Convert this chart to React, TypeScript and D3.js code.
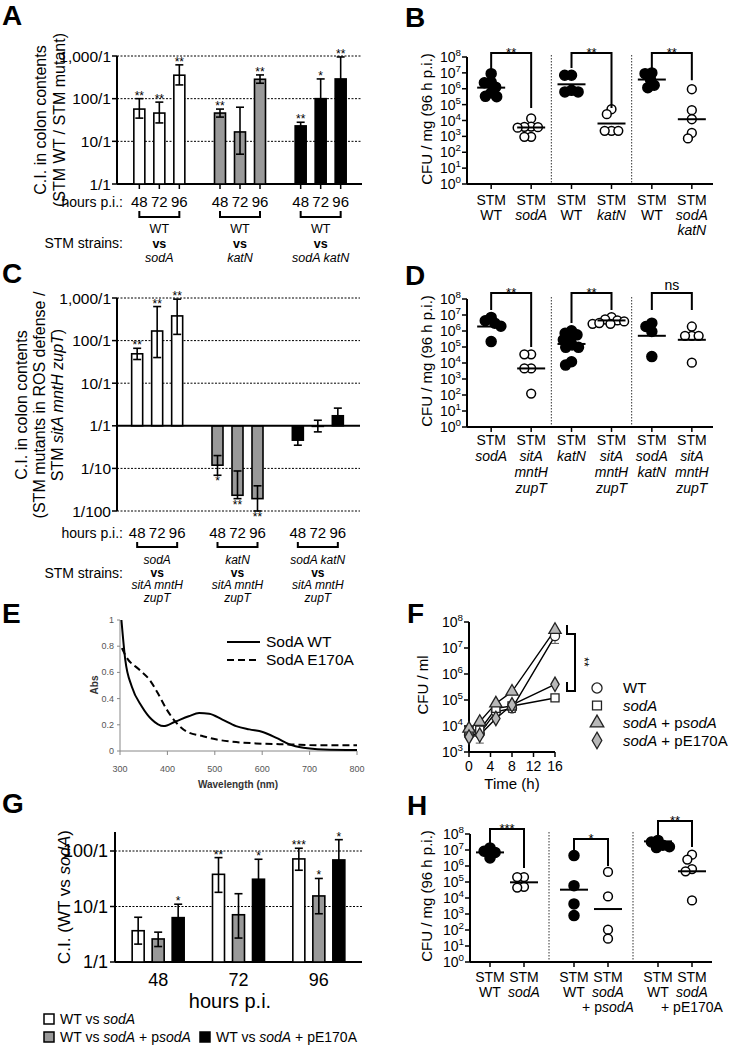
import React from "react";
import * as d3 from "d3";

const FONT = "'Liberation Sans', Arial, Helvetica, sans-serif";

// ---------------- Panel A ----------------
const aGroups = ["sodA", "katN", "sodA katN"];
const aHours = ["48", "72", "96"];
const aValues = [[57, 46, 355], [46, 16.6, 285], [23, 100, 290]];
const aErrHi = [[100, 83, 620], [57, 63, 360], [28, 290, 950]];
const aErrLo = [[35, 27, 210], [37, 5, 230], [20, 40, 200]];
const aStars = [["**", "**", "**"], ["**", "", "**"], ["**", "*", "**"]];
const aFills = ["#ffffff", "#999999", "#000000"];
const aTicks = [1, 10, 100, 1000];
const aTickLabels = ["1/1", "10/1", "100/1", "1,000/1"];
const aStrainLines = [["WT", "vs", "_sodA_"], ["WT", "vs", "_katN_"], ["WT", "vs", "_sodA katN_"]];

// ---------------- Panel C ----------------
const cGroups = ["sodA", "katN", "sodA katN"];
const cValues = [[49, 168, 380], [0.119, 0.0234, 0.0195], [0.46, 0.97, 1.72]];
const cErrHi = [[66, 630, 940], [0.2, 0.087, 0.039], [0.6, 1.35, 2.6]];
const cErrLo = [[36, 40, 140], [0.069, 0.0195, 0.01], [0.35, 0.72, 1.2]];
const cStars = [["**", "**", "**"], ["*", "**", "**"], ["", "", ""]];
const cTicks = [0.01, 0.1, 1, 10, 100, 1000];
const cTickLabels = ["1/100", "1/10", "1/1", "10/1", "100/1", "1,000/1"];
const cStrainLines = [
  ["_sodA_", "vs", "_sitA mntH_", "_zupT_"],
  ["_katN_", "vs", "_sitA mntH_", "_zupT_"],
  ["_sodA katN_", "vs", "_sitA mntH_", "_zupT_"],
];

// ---------------- Panel G ----------------
const gHours = ["48", "72", "96"];
const gSeries = ["WT vs _sodA_", "WT vs _sodA_ + p_sodA_", "WT vs _sodA_ + pE170A"];
const gFills = ["#ffffff", "#999999", "#000000"];
const gValues = [[3.66, 38, 72], [2.6, 7.1, 15.5], [6.3, 31, 69]];
const gErrHi = [[6.4, 76, 112], [3.45, 17, 32], [11, 71, 160]];
const gErrLo = [[2.1, 18, 45], [1.9, 2.7, 7.4], [3.5, 15, 30]];
const gStars = [["", "**", "***"], ["", "", "*"], ["*", "*", "*"]];
const gTicks = [1, 10, 100];
const gTickLabels = ["1/1", "10/1", "100/1"];

// ---------------- Panel B (log10 CFU/mg) ----------------
const bPoints = [
  [6.95, 6.42, 6.38, 6.1, 5.5, 5.52, 5.75],
  [4.13, 3.62, 3.6, 3.58, 3.55, 2.97, 2.97],
  [6.85, 6.85, 5.9, 5.8, 5.8],
  [4.71, 4.4, 3.35, 3.35, 3.35],
  [6.58, 7.0, 6.95, 6.07, 6.22],
  [5.97, 4.65, 4.08, 3.22, 2.87],
];
const bMedians = [6.07, 3.56, 6.28, 3.81, 6.58, 4.08];
const bFilled = [true, false, true, false, true, false];
const bLabels = [["STM", "WT"], ["STM", "_sodA_"], ["STM", "WT"], ["STM", "_katN_"], ["STM", "WT"], ["STM", "_sodA_", "_katN_"]];
const bBrackets = [
  { label: "**", top: 8.25, left: 7.17, right: 4.78 },
  { label: "**", top: 8.25, left: 7.3, right: 4.78 },
  { label: "**", top: 8.25, left: 7.17, right: 6.54 },
];

// ---------------- Panel D ----------------
const dPoints = [
  [6.85, 6.64, 6.49, 6.3, 5.34],
  [4.54, 4.54, 3.66, 3.66, 2.09],
  [6.01, 5.86, 5.76, 5.55, 5.45, 5.13, 4.98, 4.98, 4.08, 3.87],
  [6.87, 6.72, 6.66, 6.6, 6.45, 6.45, 6.5],
  [6.49, 6.28, 5.97, 4.4],
  [6.28, 5.7, 5.7, 5.7, 4.02],
];
const dMedians = [6.28, 3.66, 5.19, 6.66, 5.7, 5.45];
const dFilled = [true, false, true, false, true, false];
const dLabels = [
  ["STM", "_sodA_"], ["STM", "_sitA_", "_mntH_", "_zupT_"],
  ["STM", "_katN_"], ["STM", "_sitA_", "_mntH_", "_zupT_"],
  ["STM", "_sodA_", "_katN_"], ["STM", "_sitA_", "_mntH_", "_zupT_"],
];
const dBrackets = [
  { label: "**", top: 8.375, left: 7.31, right: 5.0 },
  { label: "**", top: 8.375, left: 6.5, right: 7.31 },
  { label: "ns", top: 8.375, left: 7.31, right: 7.31 },
];

// ---------------- Panel H ----------------
const hPoints = [
  [7.13, 6.92, 6.85, 6.5],
  [5.31, 5.31, 4.7, 4.65],
  [6.65, 4.77, 3.63, 2.9],
  [5.63, 4.1, 2.02, 1.46],
  [7.6, 7.5, 7.3, 7.2, 7.15],
  [6.71, 6.4, 5.81, 5.67, 3.85],
];
const hMedians = [6.85, 4.98, 4.52, 3.31, 7.54, 5.67];
const hFilled = [true, false, true, false, true, false];
const hLabels = [
  ["STM", "WT"], ["STM", "_sodA_"], ["STM", "WT"], ["STM", "_sodA_", "+ p_sodA_"],
  ["STM", "WT"], ["STM", "_sodA_", "+ pE170A"],
];
const hBrackets = [
  { label: "***", top: 8.31, left: 7.19, right: 5.88 },
  { label: "*", top: 7.69, left: 6.94, right: 6.0 },
  { label: "**", top: 8.81, left: 7.94, right: 7.19 },
];
const logTicks = [0, 1, 2, 3, 4, 5, 6, 7, 8];

// ---------------- Panel E ----------------
const eWlWT = [303, 311, 325, 346, 367, 392, 417, 445, 467, 488, 516, 545, 573, 601, 630, 658, 687, 729, 800];
const eAbsWT = [1.0, 0.7, 0.49, 0.34, 0.24, 0.19, 0.225, 0.265, 0.29, 0.285, 0.24, 0.19, 0.165, 0.145, 0.1, 0.05, 0.025, 0.012, 0.008];
const eWlMut = [304, 313, 341, 362, 380, 398, 419, 440, 474, 502, 545, 587, 658, 729, 800];
const eAbsMut = [0.785, 0.72, 0.62, 0.545, 0.44, 0.32, 0.215, 0.15, 0.114, 0.089, 0.068, 0.058, 0.05, 0.043, 0.043];
const eXTicks = [300, 400, 500, 600, 700, 800];
const eYTicks = [0, 0.2, 0.4, 0.6, 0.8, 1];
const eLegend = ["SodA WT", "SodA E170A"];

// ---------------- Panel F ----------------
const fHours = [0, 2, 5, 8, 16];
const fSeriesNames = ["WT", "_sodA_", "_sodA_ + p_sodA_", "_sodA_ + pE170A"];
const fWT = [4.5e3, 5.1e3, 3.5e4, 4.8e4, 2.9e7];
const fSodA = [6.9e3, 6.9e3, 4.8e4, 5.9e4, 1.2e5];
const fPsodA = [7.9e3, 1.45e4, 7.4e4, 2.1e5, 5.0e7];
const fPE170A = [3.8e3, 4.5e3, 1.95e4, 6.5e4, 4.0e5];
const fWTErrLo = [3.5e3, 2.2e3, 2.8e4, 3.3e4, 1.5e7];
const fXTicks = [0, 4, 8, 12, 16];
const fYTicks = [3, 4, 5, 6, 7, 8];

// ================= helpers =================
function Rich({ text, x, y, anchor = "middle", size = 14, weight = "normal", fill = "#000" }: any) {
  const parts = String(text).split("_");
  return (
    <text x={x} y={y} textAnchor={anchor} fontSize={size} fontWeight={weight} fill={fill} style={{ whiteSpace: "pre" }}>
      {parts.map((p: string, i: number) =>
        p ? (
          <tspan key={i} fontStyle={i % 2 ? "italic" : "normal"}>
            {p}
          </tspan>
        ) : null
      )}
    </text>
  );
}

function Letter({ ch, x, y }: any) {
  return (
    <text x={x} y={y} fontSize={28} fontWeight="bold">
      {ch}
    </text>
  );
}

function barEl(key: string, cx: number, bw: number, y: any, base: number, v: number, hi: number, lo: number, fill: string, star: string) {
  const yb = y(base);
  const yv = y(v);
  const up = v >= base;
  const top = Math.min(yb, yv);
  const h = Math.abs(yb - yv);
  const yHi = y(hi);
  const yLo = y(lo);
  const cap = 4;
  return (
    <g key={key}>
      <rect x={cx - bw / 2} y={top} width={bw} height={h} fill={fill} stroke="#000" strokeWidth={1.6} />
      <line x1={cx} x2={cx} y1={yHi} y2={yLo} stroke="#000" strokeWidth={1.6} />
      <line x1={cx - cap} x2={cx + cap} y1={yHi} y2={yHi} stroke="#000" strokeWidth={1.6} />
      <line x1={cx - cap} x2={cx + cap} y1={yLo} y2={yLo} stroke="#000" strokeWidth={1.6} />
      {star ? (
        <text x={cx} y={up ? yHi + 1 : yLo + 10} textAnchor="middle" fontSize={12}>
          {star}
        </text>
      ) : null}
    </g>
  );
}

function beeswarm(vals: number[], yPix: (v: number) => number, d: number): number[] {
  const placed: { x: number; y: number }[] = [];
  const order = vals.map((_, i) => i).sort((a, b) => vals[b] - vals[a]);
  const xs = new Array(vals.length).fill(0);
  for (const i of order) {
    const y = yPix(vals[i]);
    const cands = [0];
    for (const p of placed) {
      const dy = Math.abs(p.y - y);
      if (dy < d) {
        const dx = Math.sqrt(d * d - dy * dy);
        cands.push(p.x + dx, p.x - dx);
      }
    }
    cands.sort((a, b) => Math.abs(a) - Math.abs(b) || a - b);
    let chosen = 0;
    for (const c of cands) {
      if (placed.every((p) => (p.x - c) ** 2 + (p.y - y) ** 2 >= d * d - 0.01)) {
        chosen = c;
        break;
      }
    }
    placed.push({ x: chosen, y });
    xs[i] = chosen;
  }
  return xs;
}

function LogTickLabel({ x, y, exp, size = 14 }: any) {
  return (
    <text x={x} y={y + 5} textAnchor="end" fontSize={size}>
      10
      <tspan dy={-6} fontSize={size * 0.7}>
        {exp}
      </tspan>
    </text>
  );
}

// ================= Dot panel (B, D, H) =================
function DotPanel({ axisX, axisRight, yTop, yBottom, groupRange, offset, points, medians, filled, labels, brackets, labelY, labelDy, yLabel, yLabelX, yLabelY }: any) {
  const y = d3.scaleLinear().domain([0, 8]).range([yBottom, yTop]);
  const groups = ["g1", "g2", "g3"];
  const xg = d3.scaleBand().domain(groups).range(groupRange).padding(0);
  const xi = d3.scalePoint().domain(["a", "b"]).range([-offset, offset]);
  const catX = (k: number) => (xg(groups[Math.floor(k / 2)]) as number) + xg.bandwidth() / 2 + (xi(k % 2 ? "b" : "a") as number);
  const r = 5;
  return (
    <g>
      {[1, 2].map((gi) => {
        const xx = xg(groups[gi]) as number;
        return <line key={gi} x1={xx} x2={xx} y1={yTop - 2} y2={yBottom} stroke="#333" strokeWidth={1} strokeDasharray="1.5,1.5" />;
      })}
      <line x1={axisX} x2={axisX} y1={yTop} y2={yBottom} stroke="#000" strokeWidth={2} />
      <line x1={axisX} x2={axisRight} y1={yBottom} y2={yBottom} stroke="#000" strokeWidth={2} />
      {logTicks.map((t) => (
        <g key={t}>
          <line x1={axisX - 5} x2={axisX} y1={y(t)} y2={y(t)} stroke="#000" strokeWidth={1.5} />
          <LogTickLabel x={axisX - 6} y={y(t)} exp={t} />
        </g>
      ))}
      {points.map((_: any, k: number) => (
        <line key={k} x1={catX(k)} x2={catX(k)} y1={yBottom} y2={yBottom + 5} stroke="#000" strokeWidth={1.5} />
      ))}
      {points.map((vals: number[], k: number) => {
        const xs = beeswarm(vals, y, 6.8);
        return (
          <g key={k}>
            {vals.map((v, i) => (
              <circle key={i} cx={catX(k) + xs[i]} cy={y(v)} r={filled[k] ? r : r - 0.6} fill={filled[k] ? "#000" : "#fff"} stroke="#000" strokeWidth={1.5} />
            ))}
            <line x1={catX(k) - 14} x2={catX(k) + 14} y1={y(medians[k])} y2={y(medians[k])} stroke="#000" strokeWidth={2} />
          </g>
        );
      })}
      {brackets.map((b: any, gi: number) => {
        const xl = catX(gi * 2);
        const xr = catX(gi * 2 + 1);
        const yt = y(b.top);
        return (
          <g key={gi}>
            <path d={`M${xl},${y(b.left)}V${yt}H${xr}V${y(b.right)}`} fill="none" stroke="#000" strokeWidth={2} />
            <text x={(xl + xr) / 2} y={b.label === "ns" ? yt - 3 : yt + 4} textAnchor="middle" fontSize={b.label === "ns" ? 14 : 13}>
              {b.label}
            </text>
          </g>
        );
      })}
      {labels.map((lines: string[], k: number) =>
        lines.map((ln, li) => <Rich key={k + "-" + li} text={ln} x={catX(k)} y={labelY + li * labelDy} size={14} />)
      )}
      <text transform={`translate(${yLabelX},${yLabelY}) rotate(-90)`} textAnchor="middle" fontSize={15}>
        {yLabel}
      </text>
    </g>
  );
}

// ================= Main =================
export default function App() {
  const yA = d3.scaleLog().domain([1, 1000]).range([184, 56]);
  const xA = d3.scaleBand().domain(aGroups).range([119, 361]).padding(0);
  const xAi = d3.scaleBand().domain(aHours).range([-30, 30]).paddingInner(0.45).paddingOuter(0.225);
  const aCx = (gi: number, hi: number) => (xA(aGroups[gi]) as number) + xA.bandwidth() / 2 + (xAi(aHours[hi]) as number) + xAi.bandwidth() / 2;

  const yC = d3.scaleLog().domain([0.01, 1000]).range([511, 298]);
  const xC = d3.scaleBand().domain(cGroups).range([117, 358]).padding(0);
  const cCx = (gi: number, hi: number) => (xC(cGroups[gi]) as number) + xC.bandwidth() / 2 + (xAi(aHours[hi]) as number) + xAi.bandwidth() / 2;

  const yG = d3.scaleLog().domain([1, 100]).range([962, 851]);
  const xG = d3.scaleBand().domain(gHours).range([118, 359]).padding(0);
  const xGi = d3.scaleBand().domain(["0", "1", "2"]).range([-30, 30]).paddingInner(0.4).paddingOuter(0.2);
  const gCx = (hi: number, si: number) => (xG(gHours[hi]) as number) + xG.bandwidth() / 2 + (xGi(String(si)) as number) + xGi.bandwidth() / 2;

  const xE = d3.scaleLinear().domain([300, 800]).range([120, 357]);
  const yE = d3.scaleLinear().domain([0, 1]).range([751, 620]);
  const lineE = d3.line<number>().curve(d3.curveMonotoneX);
  const wtPath = lineE(eWlWT.map((w, i) => [xE(w), yE(eAbsWT[i])]) as any);
  const mutPath = lineE(eWlMut.map((w, i) => [xE(w), yE(eAbsMut[i])]) as any);

  const xF = d3.scaleLinear().domain([0, 16]).range([469, 555]);
  const yF = d3.scaleLog().domain([1e3, 1e8]).range([752, 622]);
  const fSeries = [fWT, fSodA, fPsodA, fPE170A];
  const fSymbols = [d3.symbolCircle, d3.symbolSquare, d3.symbolTriangle, d3.symbolDiamond];
  const fSizes = [65, 65, 65, 60];
  const fFill = ["#fff", "#fff", "#b8b8b8", "#b8b8b8"];
  const fLine = d3.line<number>();
  const legendRows = d3.scalePoint().domain(["0", "1", "2", "3"]).range([688, 740.5]);

  return (
    <svg width={733} height={1050} style={{ position: "absolute", left: 0, top: 0, background: "#fff" }} fontFamily={FONT}>
      <rect x={0} y={0} width={733} height={1050} fill="#fff" />

      {/* ================= A ================= */}
      <Letter ch="A" x={2} y={25} />
      {aTicks.slice(1).map((t) => (
        <line key={t} x1={117} x2={362} y1={yA(t)} y2={yA(t)} stroke="#000" strokeWidth={1} strokeDasharray="2,1.5" />
      ))}
      <line x1={117} x2={117} y1={56} y2={184} stroke="#000" strokeWidth={2} />
      <line x1={117} x2={362} y1={184} y2={184} stroke="#000" strokeWidth={2} />
      {aTicks.map((t, i) => (
        <g key={t}>
          <line x1={112} x2={117} y1={yA(t)} y2={yA(t)} stroke="#000" strokeWidth={1.5} />
          <text x={111} y={yA(t) + 5.5} textAnchor="end" fontSize={15.5}>
            {aTickLabels[i]}
          </text>
        </g>
      ))}
      {aGroups.map((g, gi) =>
        aHours.map((h, hi) => (
          <line key={g + h + "t"} x1={aCx(gi, hi)} x2={aCx(gi, hi)} y1={184} y2={189} stroke="#000" strokeWidth={1.5} />
        ))
      )}
      {aGroups.map((g, gi) =>
        aHours.map((h, hi) =>
          barEl("a" + gi + hi, aCx(gi, hi), xAi.bandwidth(), yA, 1, aValues[gi][hi], aErrHi[gi][hi], aErrLo[gi][hi], aFills[gi], aStars[gi][hi])
        )
      )}
      <text x={123} y={207} textAnchor="end" fontSize={14}>hours p.i.:</text>
      {aGroups.map((g, gi) =>
        aHours.map((h, hi) => (
          <text key={g + h + "l"} x={aCx(gi, hi)} y={207} textAnchor="middle" fontSize={15}>{h}</text>
        ))
      )}
      {aGroups.map((g, gi) => (
        <path key={g + "br"} d={`M${aCx(gi, 0)},211V217H${aCx(gi, 2)}V211`} fill="none" stroke="#000" strokeWidth={2} />
      ))}
      <text x={123} y={248} textAnchor="end" fontSize={14}>STM strains:</text>
      {aStrainLines.map((lines, gi) =>
        lines.map((ln, li) => (
          <Rich key={gi + "s" + li} text={ln} x={aCx(gi, 1)} y={233 + li * 14.5} size={12.5} weight={li === 1 ? "bold" : "normal"} />
        ))
      )}
      <text transform="translate(46,120) rotate(-90)" textAnchor="middle" fontSize={16}>C.I. in colon contents</text>
      <text transform="translate(65,120) rotate(-90)" textAnchor="middle" fontSize={16}>(STM WT / STM mutant)</text>

      {/* ================= B ================= */}
      <Letter ch="B" x={405} y={27} />
      <DotPanel axisX={467} axisRight={713} yTop={57} yBottom={184} groupRange={[471, 712]} offset={20} points={bPoints} medians={bMedians} filled={bFilled} labels={bLabels} brackets={bBrackets} labelY={205} labelDy={15} yLabel="CFU / mg (96 h p.i.)" yLabelX={432} yLabelY={119} />

      {/* ================= C ================= */}
      <Letter ch="C" x={2} y={283} />
      {cTicks.filter((t) => t !== 1).map((t) => (
        <line key={t} x1={117} x2={360} y1={yC(t)} y2={yC(t)} stroke="#000" strokeWidth={1} strokeDasharray="2,1.5" />
      ))}
      <line x1={117} x2={117} y1={298} y2={511} stroke="#000" strokeWidth={2} />
      {cTicks.map((t, i) => (
        <g key={t}>
          <line x1={112} x2={117} y1={yC(t)} y2={yC(t)} stroke="#000" strokeWidth={1.5} />
          <text x={111} y={yC(t) + 5.5} textAnchor="end" fontSize={15.5}>
            {cTickLabels[i]}
          </text>
        </g>
      ))}
      {cGroups.map((g, gi) =>
        aHours.map((h, hi) =>
          barEl("c" + gi + hi, cCx(gi, hi), xAi.bandwidth(), yC, 1, cValues[gi][hi], cErrHi[gi][hi], cErrLo[gi][hi], aFills[gi], cStars[gi][hi])
        )
      )}
      <line x1={117} x2={360} y1={yC(1)} y2={yC(1)} stroke="#000" strokeWidth={2} />
      <text x={123} y={538} textAnchor="end" fontSize={14}>hours p.i.:</text>
      {cGroups.map((g, gi) =>
        aHours.map((h, hi) => (
          <text key={g + h + "cl"} x={cCx(gi, hi)} y={538} textAnchor="middle" fontSize={15}>{h}</text>
        ))
      )}
      {cGroups.map((g, gi) => (
        <path key={g + "cbr"} d={`M${cCx(gi, 0)},542V547H${cCx(gi, 2)}V542`} fill="none" stroke="#000" strokeWidth={2} />
      ))}
      <text x={123} y={578} textAnchor="end" fontSize={14}>STM strains:</text>
      {cStrainLines.map((lines, gi) =>
        lines.map((ln, li) => (
          <Rich key={gi + "cs" + li} text={ln} x={cCx(gi, 1)} y={564 + li * 12.5} size={12} weight={li === 1 ? "bold" : "normal"} />
        ))
      )}
      <text transform="translate(27,405) rotate(-90)" textAnchor="middle" fontSize={16}>C.I. in colon contents</text>
      <text transform="translate(45,405) rotate(-90)" textAnchor="middle" fontSize={16}>(STM mutants in ROS defense /</text>
      <text transform="translate(63,405) rotate(-90)" textAnchor="middle" fontSize={16}>
        STM <tspan fontStyle="italic">sitA mntH zupT</tspan>)
      </text>

      {/* ================= D ================= */}
      <Letter ch="D" x={405} y={285} />
      <DotPanel axisX={467} axisRight={713} yTop={299} yBottom={427} groupRange={[471, 712]} offset={20} points={dPoints} medians={dMedians} filled={dFilled} labels={dLabels} brackets={dBrackets} labelY={445} labelDy={16} yLabel="CFU / mg (96 h p.i.)" yLabelX={432} yLabelY={361} />

      {/* ================= E ================= */}
      <Letter ch="E" x={2} y={623} />
      <line x1={120} x2={120} y1={620} y2={751} stroke="#888" strokeWidth={1} />
      <line x1={120} x2={357} y1={751} y2={751} stroke="#888" strokeWidth={1} />
      {eYTicks.map((t) => (
        <g key={t}>
          <line x1={117} x2={120} y1={yE(t)} y2={yE(t)} stroke="#888" />
          <text x={114} y={yE(t) + 3} textAnchor="end" fontSize={9} fill="#555">{t}</text>
        </g>
      ))}
      {eXTicks.map((t) => (
        <g key={t}>
          <line x1={xE(t)} x2={xE(t)} y1={751} y2={755} stroke="#888" />
          <text x={xE(t)} y={772} textAnchor="middle" fontSize={9} fill="#555">{t}</text>
        </g>
      ))}
      <path d={wtPath as string} fill="none" stroke="#000" strokeWidth={2} />
      <path d={mutPath as string} fill="none" stroke="#000" strokeWidth={2} strokeDasharray="7,4" />
      <text x={238} y={788} textAnchor="middle" fontSize={10} fontWeight="bold" fill="#333">Wavelength (nm)</text>
      <text transform="translate(98,685) rotate(-90)" textAnchor="middle" fontSize={10} fontWeight="bold" fill="#333">Abs</text>
      {eLegend.map((name, i) => (
        <g key={name}>
          <line x1={227} x2={260} y1={642 + i * 18} y2={642 + i * 18} stroke="#000" strokeWidth={2.2} strokeDasharray={i ? "7,4" : undefined} />
          <text x={266} y={647 + i * 18} fontSize={15.5}>{name}</text>
        </g>
      ))}

      {/* ================= F ================= */}
      <Letter ch="F" x={407} y={623} />
      <line x1={469} x2={469} y1={622} y2={752} stroke="#000" strokeWidth={2} />
      <line x1={469} x2={555} y1={752} y2={752} stroke="#000" strokeWidth={2} />
      {fYTicks.map((t) => (
        <g key={t}>
          <line x1={464} x2={469} y1={yF(10 ** t)} y2={yF(10 ** t)} stroke="#000" strokeWidth={1.5} />
          <LogTickLabel x={463} y={yF(10 ** t)} exp={t} />
        </g>
      ))}
      {fXTicks.map((t) => (
        <g key={t}>
          <line x1={xF(t)} x2={xF(t)} y1={752} y2={757} stroke="#000" strokeWidth={1.5} />
          <text x={xF(t)} y={771} textAnchor="middle" fontSize={14}>{t}</text>
        </g>
      ))}
      <text x={512} y={789} textAnchor="middle" fontSize={15}>Time (h)</text>
      <text transform="translate(428,685) rotate(-90)" textAnchor="middle" fontSize={15}>CFU / ml</text>
      {fSeries.map((s, si) => (
        <path key={"fl" + si} d={fLine(s.map((v, i) => [xF(fHours[i]), yF(v)]) as any) as string} fill="none" stroke="#000" strokeWidth={1.4} />
      ))}
      {fHours.map((h, i) => (
        <line key={"fe" + i} x1={xF(h)} x2={xF(h)} y1={yF(fWT[i])} y2={yF(fWTErrLo[i])} stroke="#555" strokeWidth={1} />
      ))}
      {fHours.map((h, i) => (
        <line key={"fc" + i} x1={xF(h) - 4} x2={xF(h) + 4} y1={yF(fWTErrLo[i])} y2={yF(fWTErrLo[i])} stroke="#555" strokeWidth={1} />
      ))}
      {fSeries.map((s, si) =>
        s.map((v, i) => (
          <path key={"fm" + si + i} transform={`translate(${xF(fHours[i])},${yF(v)})`} d={d3.symbol(fSymbols[si], fSizes[si])() as string} fill={fFill[si]} stroke="#222" strokeWidth={1.3} />
        ))
      )}
      <path d="M567,625V634H575V691H567V682" fill="none" stroke="#000" strokeWidth={2} />
      <text transform="translate(580,662) rotate(90)" textAnchor="middle" fontSize={12}>**</text>
      {fSeriesNames.map((n, si) => (
        <g key={"flg" + si}>
          <path transform={`translate(597,${legendRows(String(si))})`} d={d3.symbol(fSymbols[si], 80)() as string} fill={fFill[si]} stroke="#222" strokeWidth={1.3} />
          <Rich text={n} x={623} y={(legendRows(String(si)) as number) + 5} anchor="start" size={15} />
        </g>
      ))}

      {/* ================= G ================= */}
      <Letter ch="G" x={2} y={813} />
      {gTicks.slice(1).map((t) => (
        <line key={t} x1={115} x2={362} y1={yG(t)} y2={yG(t)} stroke="#000" strokeWidth={1} strokeDasharray="2,1.5" />
      ))}
      <line x1={115} x2={115} y1={832} y2={962} stroke="#000" strokeWidth={2} />
      <line x1={115} x2={362} y1={962} y2={962} stroke="#000" strokeWidth={2} />
      {gTicks.map((t, i) => (
        <g key={t}>
          <line x1={110} x2={115} y1={yG(t)} y2={yG(t)} stroke="#000" strokeWidth={1.5} />
          <text x={108} y={yG(t) + 6} textAnchor="end" fontSize={18}>{gTickLabels[i]}</text>
        </g>
      ))}
      {gHours.map((h, hi) =>
        gSeries.map((s, si) =>
          barEl("g" + hi + si, gCx(hi, si), xGi.bandwidth(), yG, 1, gValues[si][hi], gErrHi[si][hi], gErrLo[si][hi], gFills[si], gStars[si][hi])
        )
      )}
      {gHours.map((h) => (
        <text key={"gl" + h} x={(xG(h) as number) + xG.bandwidth() / 2} y={986} textAnchor="middle" fontSize={18}>{h}</text>
      ))}
      <text x={230} y={1008} textAnchor="middle" fontSize={20}>hours p.i.</text>
      <text transform="translate(70,897) rotate(-90)" textAnchor="middle" fontSize={17}>
        C.I. (WT vs <tspan fontStyle="italic">sodA</tspan>)
      </text>
      {gSeries.map((s, si) => {
        const lx = si === 2 ? 200 : 44;
        const ly = si === 0 ? 1014 : 1032;
        return (
          <g key={"glg" + si}>
            <rect x={lx} y={ly} width={10} height={10} fill={gFills[si]} stroke="#000" strokeWidth={1.5} />
            <Rich text={s} x={lx + 16} y={ly + 10} anchor="start" size={14} />
          </g>
        );
      })}

      {/* ================= H ================= */}
      <Letter ch="H" x={407} y={815} />
      <DotPanel axisX={470} axisRight={712} yTop={834} yBottom={962} groupRange={[465, 717]} offset={17} points={hPoints} medians={hMedians} filled={hFilled} labels={hLabels} brackets={hBrackets} labelY={982} labelDy={15} yLabel="CFU / mg (96 h p.i.)" yLabelX={432} yLabelY={896} />
    </svg>
  );
}
